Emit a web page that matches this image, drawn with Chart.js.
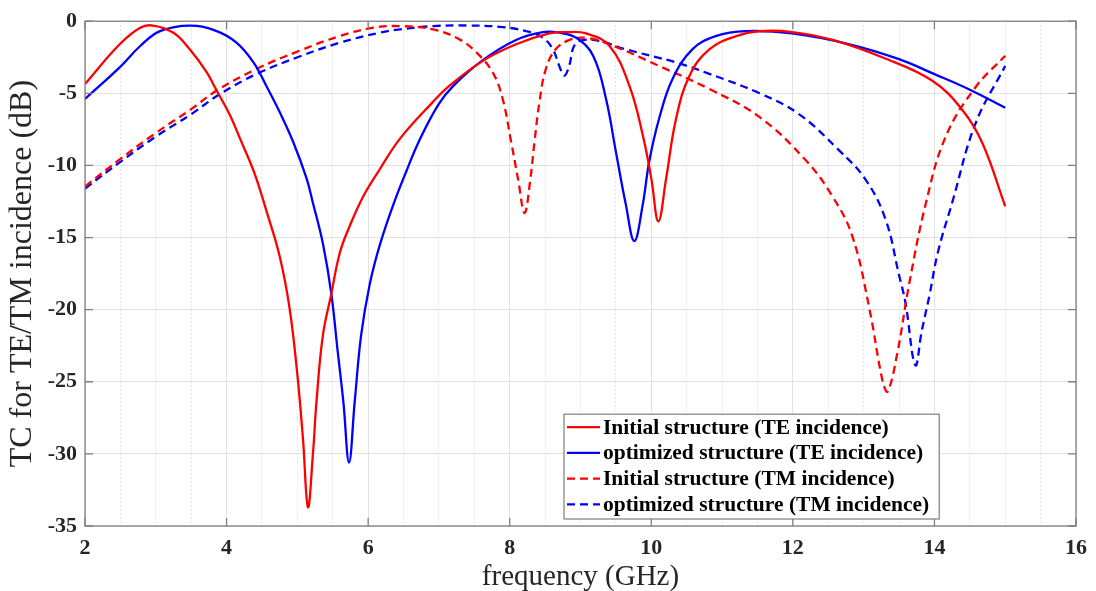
<!DOCTYPE html>
<html>
<head>
<meta charset="utf-8">
<script src="https://cdn.jsdelivr.net/npm/chart.js@4.4.1/dist/chart.umd.min.js"></script>
<style>
    html, body { margin: 0; padding: 0; background: #ffffff; }
    #wrap { width: 1096px; height: 591px; }
</style>
</head>
<body>
<div id="wrap"><canvas id="tc" width="1096" height="591"></canvas></div>
<script>
// Axis ticks
const xTicks = [2, 4, 6, 8, 10, 12, 14, 16];
const yTicks = [0, -5, -10, -15, -20, -25, -30, -35];

// Initial structure, TE incidence (solid red)
const initTeFreq = [2.0, 2.49, 2.78, 2.96, 3.25, 3.48, 3.72, 3.86, 4.05, 4.19, 4.33, 4.42, 4.56, 4.75, 4.89,
    5.0, 5.08, 5.15, 5.22, 5.27, 5.36, 5.48, 5.6, 5.74, 5.93, 6.16, 6.45, 6.89, 7.15, 7.62,
    8.09, 8.56, 8.8, 9.08, 9.41, 9.69, 9.88, 10.0, 10.1, 10.21, 10.35, 10.54, 10.82, 11.2, 11.53,
    11.99, 12.56, 13.27, 13.97, 14.4, 14.68, 15.0];
const initTeDb = [-4.35, -1.6, -0.45, -0.3, -0.8, -1.95, -3.55, -4.81, -6.53, -8.14, -9.74, -10.9, -13.1, -16.3, -19.9,
    -24.5, -29.0, -33.7, -30.0, -26.4, -21.8, -18.9, -16.05, -14.2, -12.15, -10.3, -8.14, -5.73, -4.47, -2.75,
    -1.6, -0.85, -0.76, -0.85, -1.72, -4.47, -7.9, -10.9, -13.87, -10.9, -6.76, -3.78, -1.95, -1.03, -0.69,
    -0.75, -1.3, -2.52, -4.13, -6.19, -8.48, -12.83];

// Optimized structure, TE incidence (solid blue)
const optTeFreq = [2.0, 2.49, 2.78, 3.06, 3.48, 3.86, 4.14, 4.38, 4.56, 4.75, 4.94, 5.13, 5.22, 5.36, 5.48,
    5.57, 5.65, 5.73, 5.81, 5.9, 6.02, 6.16, 6.35, 6.54, 6.72, 6.99, 7.2, 7.62, 8.09, 8.47,
    8.7, 8.94, 9.18, 9.36, 9.5, 9.64, 9.76, 9.88, 9.97, 10.11, 10.3, 10.58, 10.91, 11.34, 11.99,
    12.8, 13.5, 14.0, 14.5, 15.0];
const optTeDb = [-5.39, -3.2, -1.72, -0.69, -0.3, -0.69, -1.49, -2.86, -4.47, -6.3, -8.36, -10.9, -12.6, -15.4, -18.9,
    -22.9, -26.4, -30.6, -26.4, -21.8, -18.3, -15.6, -12.8, -10.4, -8.3, -5.8, -4.5, -2.7, -1.3, -0.76,
    -0.8, -1.15, -2.41, -5.38, -9.05, -12.7, -15.24, -12.7, -9.74, -6.76, -4.01, -1.95, -1.03, -0.69, -0.85,
    -1.6, -2.63, -3.67, -4.75, -6.0];

// Initial structure, TM incidence (dashed red)
const initTmFreq = [2.0, 2.5, 3.0, 3.5, 3.86, 4.42, 5.03, 5.6, 6.07, 6.45, 6.92, 7.29, 7.53, 7.76, 7.9,
    8.02, 8.12, 8.21, 8.29, 8.35, 8.42, 8.51, 8.65, 8.84, 9.08, 9.41, 10.11, 10.82, 11.53, 12.18,
    12.56, 12.84, 13.08, 13.27, 13.34, 13.48, 13.64, 13.88, 14.16, 14.58, 15.0];
const initTmDb = [-11.46, -9.55, -7.75, -6.1, -4.81, -3.32, -2.05, -1.03, -0.45, -0.34, -0.57, -1.26, -2.17, -3.55, -5.38,
    -8.36, -11.0, -13.3, -11.0, -8.36, -5.61, -3.32, -1.95, -1.31, -1.15, -1.6, -3.1, -4.7, -6.65, -9.63,
    -12.15, -14.9, -19.9, -25.0, -25.67, -22.9, -18.3, -12.6, -8.0, -4.58, -2.4];

// Optimized structure, TM incidence (dashed blue)
const optTmFreq = [2.0, 2.5, 3.0, 3.5, 3.91, 4.42, 5.03, 5.6, 6.16, 6.45, 6.92, 7.4, 7.86, 8.23, 8.47,
    8.61, 8.7, 8.77, 8.84, 8.91, 9.03, 9.27, 9.64, 10.35, 10.82, 11.53, 12.08, 12.65, 13.03, 13.31,
    13.5, 13.59, 13.73, 13.82, 13.93, 14.05, 14.25, 14.58, 15.0];
const optTmDb = [-11.6, -9.75, -8.0, -6.45, -5.04, -3.67, -2.45, -1.49, -0.8, -0.57, -0.34, -0.3, -0.39, -0.69, -1.15,
    -1.95, -3.1, -3.78, -3.1, -1.72, -1.31, -1.37, -1.95, -2.86, -3.65, -5.0, -6.42, -8.94, -11.0, -13.75,
    -17.6, -19.5, -23.85, -21.5, -19.0, -16.0, -12.6, -7.1, -3.1];

const serif = '"Liberation Serif", "Times New Roman", serif';
const frameColor = '#7f7f7f';

function toPoints(freq, db) {
    return freq.map((f, i) => ({ x: f, y: db[i] }));
}

function series(label, freq, db, color, dashed) {
    return {
        label: label,
        data: toPoints(freq, db),
        borderColor: color,
        backgroundColor: color,
        borderWidth: 2.3,
        borderDash: dashed ? [8, 5] : [],
        pointRadius: 0,
        fill: false,
        tension: 0.4
    };
}

// Box around the plot with inward tick marks (MATLAB style)
const axesBox = {
    id: 'axesBox',
    afterDatasetsDraw(chart) {
        const { ctx, chartArea: a, scales } = chart;
        ctx.save();
        ctx.strokeStyle = frameColor;
        ctx.lineWidth = 1.3;
        ctx.strokeRect(a.left, a.top, a.right - a.left, a.bottom - a.top);
        const len = 8;
        ctx.beginPath();
        xTicks.forEach(v => {
            const px = scales.x.getPixelForValue(v);
            ctx.moveTo(px, a.bottom); ctx.lineTo(px, a.bottom - len);
            ctx.moveTo(px, a.top); ctx.lineTo(px, a.top + len);
        });
        yTicks.forEach(v => {
            const py = scales.y.getPixelForValue(v);
            ctx.moveTo(a.left, py); ctx.lineTo(a.left + len, py);
            ctx.moveTo(a.right, py); ctx.lineTo(a.right - len, py);
        });
        ctx.stroke();
        ctx.restore();
    }
};

// Legend box inside the lower right of the plot
const legendBox = {
    id: 'legendBox',
    afterDraw(chart) {
        const { ctx, chartArea: a } = chart;
        const sets = chart.data.datasets;
        ctx.save();
        ctx.font = 'bold 21.5px ' + serif;
        const rowH = 25.7;
        const lineLen = 33;
        const textW = Math.max(...sets.map(d => ctx.measureText(d.label).width));
        const w = 3 + lineLen + 3 + textW + 10;
        const h = rowH * sets.length + 2;
        const x0 = 564;
        const y0 = a.bottom - 7 - h;
        ctx.fillStyle = '#ffffff';
        ctx.fillRect(x0, y0, w, h);
        ctx.strokeStyle = frameColor;
        ctx.lineWidth = 1.2;
        ctx.strokeRect(x0, y0, w, h);
        sets.forEach((d, i) => {
            const cy = y0 + 13 + i * rowH;
            ctx.strokeStyle = d.borderColor;
            ctx.lineWidth = 2.3;
            ctx.setLineDash(d.borderDash);
            ctx.beginPath();
            ctx.moveTo(x0 + 3, cy);
            ctx.lineTo(x0 + 3 + lineLen, cy);
            ctx.stroke();
            ctx.setLineDash([]);
            ctx.fillStyle = '#000000';
            ctx.textBaseline = 'middle';
            ctx.textAlign = 'left';
            ctx.fillText(d.label, x0 + 3 + lineLen + 3, cy + 1);
        });
        ctx.restore();
    }
};

const datasets = [
    series('Initial structure (TE incidence)', initTeFreq, initTeDb, '#ff0000', false),
    series('optimized structure (TE incidence)', optTeFreq, optTeDb, '#0000ff', false),
    series('Initial structure (TM incidence)', initTmFreq, initTmDb, '#ff0000', true),
    series('optimized structure (TM incidence)', optTmFreq, optTmDb, '#0000ff', true)
];

new Chart(document.getElementById('tc'), {
    type: 'line',
    data: { datasets: datasets },
    options: {
        responsive: false,
        animation: false,
        devicePixelRatio: 1,
        layout: { padding: { top: 17, right: 19, left: 0, bottom: 0 } },
        plugins: {
            legend: { display: false },
            tooltip: { enabled: false }
        },
        scales: {
            x: {
                type: 'linear',
                position: 'bottom',
                min: 2,
                max: 16,
                afterFit: scale => { scale.height = 65; },
                afterBuildTicks: scale => { scale.ticks = xTicks.map(v => ({ value: v })); },
                ticks: {
                    color: '#262626',
                    padding: 9,
                    font: { family: serif, size: 22, weight: 'bold' }
                },
                grid: { color: '#e2e2e2', lineWidth: 1, drawTicks: false },
                border: { display: false },
                title: {
                    display: true,
                    text: 'frequency (GHz)',
                    color: '#262626',
                    padding: { top: 0, bottom: -4 },
                    font: { family: serif, size: 29 }
                }
            },
            xMinor: {
                type: 'linear',
                position: 'bottom',
                min: 2,
                max: 16,
                afterFit: scale => { scale.height = 0; },
                ticks: { display: false, stepSize: 0.5 },
                grid: {
                    drawTicks: false,
                    lineWidth: 1,
                    color: ctx => (ctx.tick && ctx.tick.value % 2 === 0) ? 'rgba(0,0,0,0)' : '#e4e4e4'
                },
                border: { display: false, dash: [2, 2] }
            },
            y: {
                type: 'linear',
                min: -35,
                max: 0,
                afterFit: scale => { scale.width = 85; },
                afterBuildTicks: scale => { scale.ticks = yTicks.map(v => ({ value: v })); },
                ticks: {
                    color: '#262626',
                    padding: 8,
                    font: { family: serif, size: 22, weight: 'bold' }
                },
                grid: { color: '#e2e2e2', lineWidth: 1, drawTicks: false },
                border: { display: false },
                title: {
                    display: true,
                    text: 'TC for TE/TM incidence (dB)',
                    color: '#262626',
                    padding: { top: 3, bottom: 0 },
                    font: { family: serif, size: 32 }
                }
            }
        }
    },
    plugins: [axesBox, legendBox]
});
</script>
</body>
</html>
